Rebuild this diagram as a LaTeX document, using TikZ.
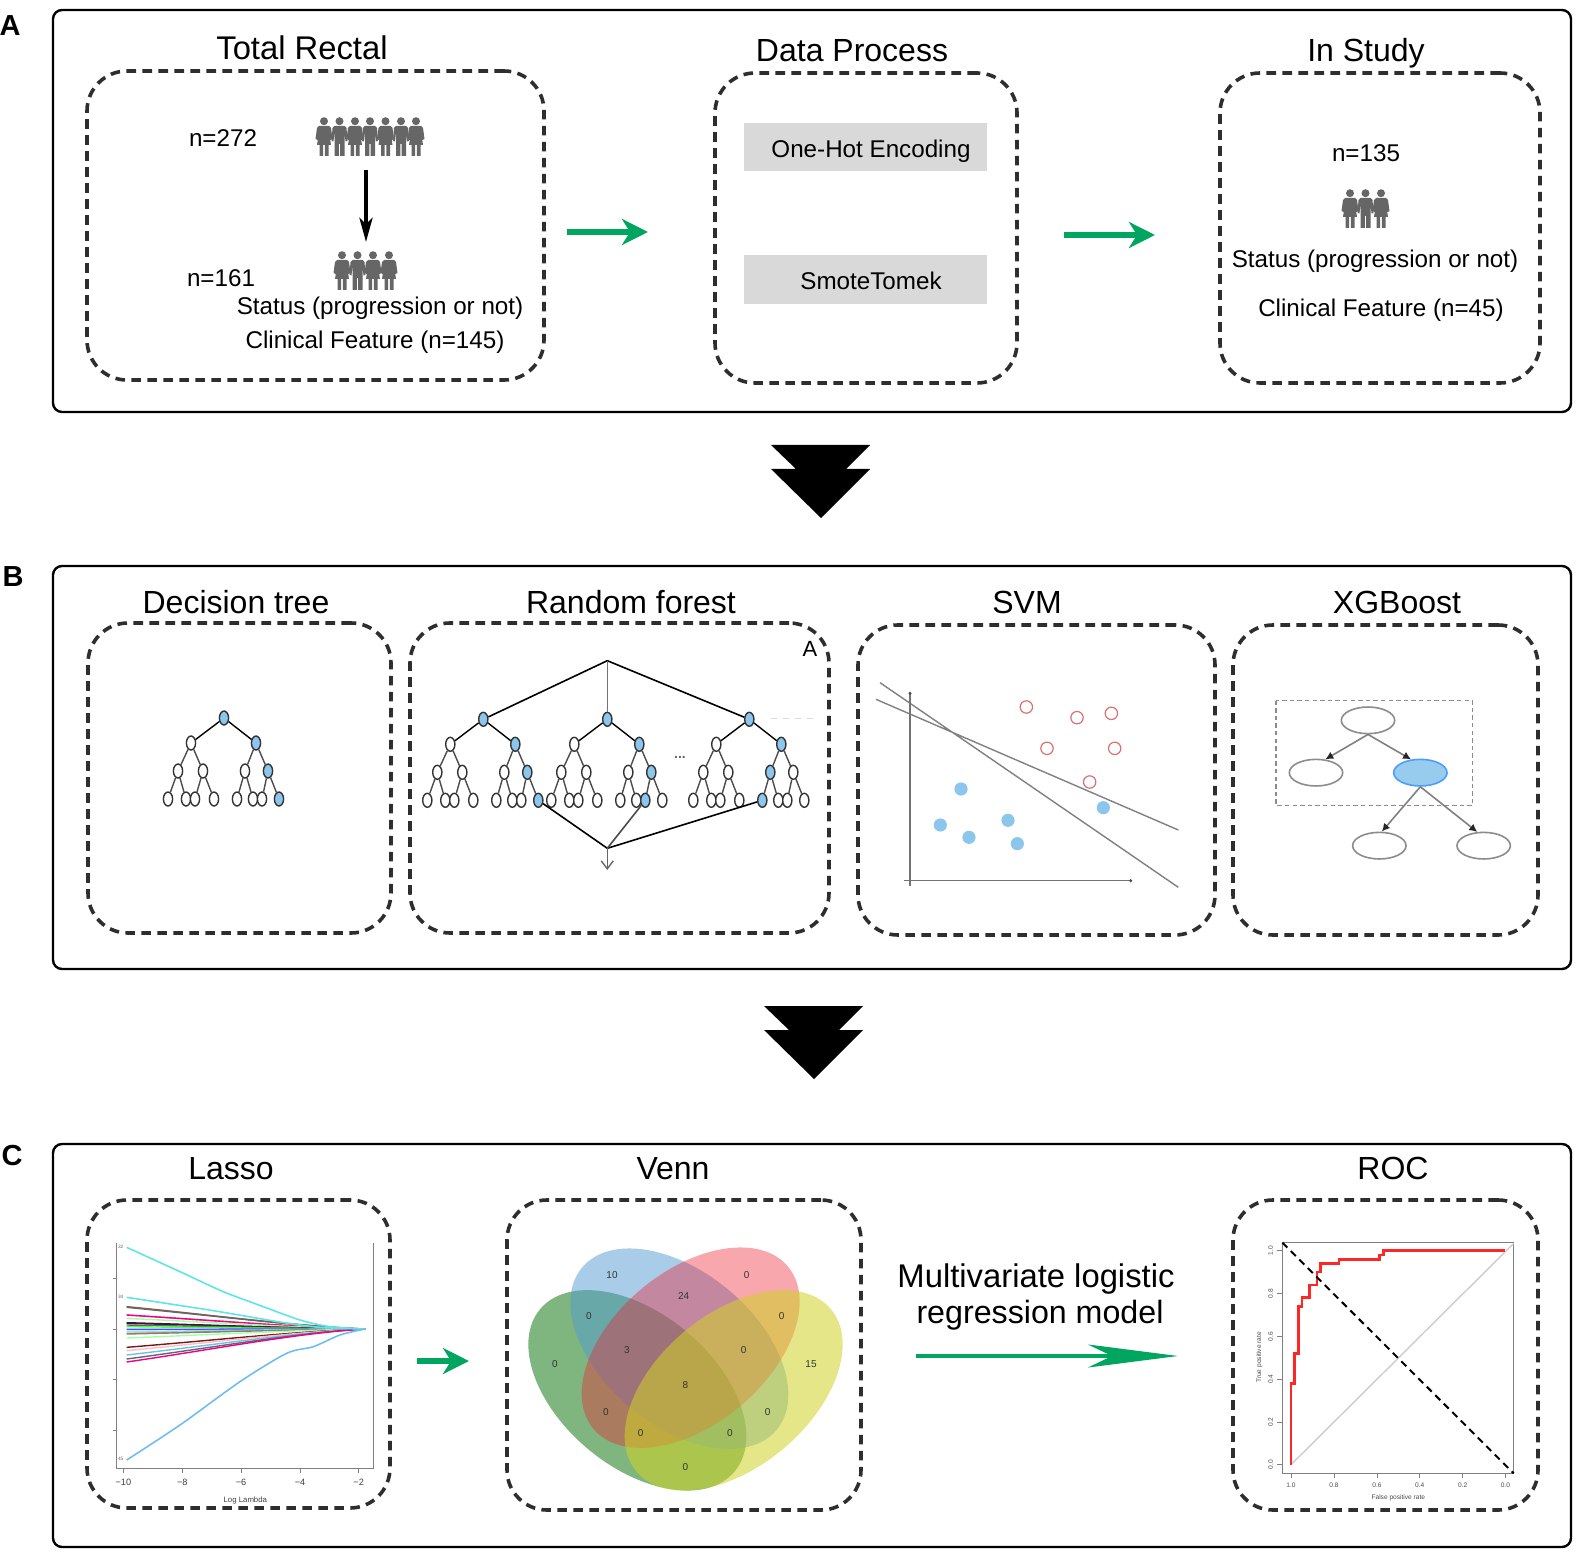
\documentclass[tikz,border=0pt]{standalone}
\usepackage{fontspec}
\setmainfont{Liberation Sans}
\usetikzlibrary{arrows.meta,fit,shapes.geometric}
\definecolor{grn}{HTML}{00A65F}
\definecolor{persongray}{HTML}{666666}
\definecolor{leafblue}{HTML}{8CC6EC}
\definecolor{dashgray}{HTML}{2E2E2E}
\definecolor{axisgray}{HTML}{808080}
\definecolor{vg}{HTML}{2A842A}
\definecolor{vb}{HTML}{539BD3}
\definecolor{vr}{HTML}{ED2332}
\definecolor{vy}{HTML}{D0D225}
\definecolor{lcyan}{HTML}{5FE5E5}
\definecolor{lsky}{HTML}{70BDF0}
\tikzset{
  outerbox/.style={draw=black,line width=1.2pt,rounded corners=4.5pt},
  dbox/.style={draw=dashgray,line width=1.8pt,dash pattern=on 4.8pt off 3.2pt,rounded corners=20pt,inner sep=0pt,outer sep=0pt},
  head16/.style={font=\fontsize{16}{18}\selectfont,inner sep=0pt},
  body12/.style={font=\fontsize{12.1}{14}\selectfont,inner sep=0pt},
  panellabel/.style={font=\fontsize{14.5}{16}\selectfont\bfseries,inner sep=0pt},
  graybox/.style={fill=black!15,inner sep=0pt},
  garrow/.style={draw=grn,line width=2.6pt,-{Stealth[length=13pt,width=13pt,inset=4pt]}},
  wn/.style={ellipse,draw=black!80,line width=.7pt,fill=white,minimum width=4.6pt,minimum height=7pt,inner sep=0pt},
  bn/.style={wn,fill=leafblue},
  tedge/.style={draw=black!70,line width=.7pt},
  redc/.style={circle,draw=red!60!gray!70,line width=.6pt,fill=white,minimum size=6.2pt,inner sep=0pt},
  bluec/.style={circle,fill=leafblue,minimum size=6.6pt,inner sep=0pt},
  xnode/.style={ellipse,draw=black!45,line width=.8pt,minimum width=26.7pt,minimum height=13.3pt,inner sep=0pt},
  xedge/.style={draw=black!50,line width=.8pt,-{Latex[length=4pt,width=4pt,black!85]}},
  zoomed/.style={x=0.166667pt,y=-0.166667pt},
  venn/.style={font=\fontsize{5}{6}\selectfont,inner sep=0pt,text=black!80},
  tiny33/.style={font=\fontsize{3.3}{4}\selectfont,inner sep=0pt,text=black!70},
  tiny42/.style={font=\fontsize{4.6}{5}\selectfont,inner sep=0pt,text=black!75},
  lasso/.style={line width=.7pt},
}
\newcommand{\dbx}[5]{\coordinate (#1-a) at (#2,#3);\coordinate (#1-b) at (#4,#5);\node[dbox,fit=(#1-a)(#1-b)] (#1) {};}
\newcommand{\pwoman}[2]{\begin{scope}[shift={(#1,#2)}]
  \fill[persongray] (0,4.2) circle [radius=4];
  \fill[persongray] (-5,9)--(5,9)--(7,11)--(8.5,22)--(6.5,23)--(5,15)--(7,28)--(-7,28)--(-5,15)--(-6.5,23)--(-8.5,22)--(-7,11)--cycle;
  \fill[persongray] (-4.5,28) rectangle (-.8,39) (.8,28) rectangle (4.5,39);
\end{scope}}
\newcommand{\pman}[2]{\begin{scope}[shift={(#1,#2)}]
  \fill[persongray] (0,4.2) circle [radius=4];
  \fill[persongray] (-5,9)--(5,9)--(7,11)--(8,24)--(6,24.5)--(5,15)--(5,27)--(-5,27)--(-5,15)--(-6,24.5)--(-8,24)--(-7,11)--cycle;
  \fill[persongray] (-5,27) rectangle (-.6,39) (.6,27) rectangle (5,39);
\end{scope}}
\newcommand{\mktree}[9]{\begin{scope}[shift={(#2,#3)}]
  \node[bn] (#1r) at (0,0) {};
  \node[wn] (#1L) at (-33,25) {};
  \node[#4] (#1R) at (32,25) {};
  \node[wn] (#1LL) at (-46,53) {};
  \node[wn] (#1LR) at (-21,53) {};
  \node[#5] (#1RL) at (21,53) {};
  \node[#6] (#1RR) at (44,53) {};
  \node[wn] (#1a) at (-56,81) {};
  \node[wn] (#1b) at (-38,81) {};
  \node[wn] (#1c) at (-29,81) {};
  \node[wn] (#1d) at (-10,81) {};
  \node[#7] (#1e) at (13,81) {};
  \node[wn] (#1f) at (29,81) {};
  \node[#8] (#1g) at (38,81) {};
  \node[#9] (#1h) at (55,81) {};
  \draw[line width=.7pt] (#1r)--(#1L) (#1r)--(#1R);
  \draw[tedge] (#1L)--(#1LL) (#1L)--(#1LR) (#1R)--(#1RL) (#1R)--(#1RR)
    (#1LL)--(#1a) (#1LL)--(#1b) (#1LR)--(#1c) (#1LR)--(#1d)
    (#1RL)--(#1e) (#1RL)--(#1f) (#1RR)--(#1g) (#1RR)--(#1h);
\end{scope}}
\begin{document}
\begin{tikzpicture}[x=0.5pt,y=-0.5pt]
\useasboundingbox (0,0) rectangle (1580,1556);
% outer panels
\draw[outerbox] (53,10) rectangle (1571,412);
\draw[outerbox] (53,566) rectangle (1571,969);
\draw[outerbox] (53,1144) rectangle (1571,1547);
\node[panellabel] (labA) at (10,26) {A};
\node[panellabel] (labB) at (13,577) {B};
\node[panellabel] (labC) at (12,1156) {C};
% big arrows
\fill (771,445)--(870,445)--(846,469)--(870,469)--(821,518)--(771,469)--(796,469)--cycle;
\fill (764,1006)--(863,1006)--(839,1030)--(863,1030)--(814,1079)--(764,1030)--(789,1030)--cycle;
% Panel A
\dbx{tr}{87}{71}{544}{380}
\dbx{dp}{715}{73}{1017}{383}
\dbx{is}{1220}{73}{1540}{383}
\node[head16,font=\fontsize{16.4}{18}\selectfont] (h1) at (302,48) {Total Rectal};
\node[head16] (h2) at (852,51) {Data Process};
\node[head16] (h3) at (1366,53) {In Study};
\node[body12] (n272) at (223,138) {n=272};
\node[body12] (n161) at (221,278) {n=161};
\node[body12] (st1) at (380,308) {Status (progression or not)};
\node[body12] (cf1) at (375,342) {Clinical Feature (n=145)};
\pwoman{324}{117}\pman{339.5}{117}\pwoman{355}{117}\pman{370}{117}\pwoman{385.5}{117}\pman{401}{117}\pwoman{416}{117}
\pwoman{342}{251}\pman{357.5}{251}\pwoman{373}{251}\pwoman{389}{251}
\coordinate (da1) at (366,170);
\coordinate (da2) at (366,242);
\draw[line width=1.9pt,-{Stealth[length=12pt,width=6.5pt,inset=3pt]}] (da1)--(da2);
\node[graybox,minimum width=121.5pt,minimum height=24pt] (ohe) at (865.5,147) {};
\node[graybox,minimum width=121.5pt,minimum height=24.5pt] (smt) at (865.5,279.5) {};
\node[body12] (ohet) at (871,151) {One-Hot Encoding};
\node[body12] (smtt) at (871,281) {SmoteTomek};
\node[body12] (n135) at (1366,153) {n=135};
\pwoman{1350}{189}\pman{1365.5}{189}\pwoman{1381}{189}
\node[body12] (st2) at (1375,261) {Status (progression or not)};
\node[body12] (cf2) at (1381,310) {Clinical Feature (n=45)};
\draw[garrow] ([shift={(23,6.5)}]tr.east)--([shift={(-67,4)}]dp.west);
\draw[garrow] ([shift={(47,7)}]dp.east)--([shift={(-65,7)}]is.west);
% Panel B
\dbx{dt}{88}{623}{391}{933}
\dbx{rf}{410}{623}{829}{933}
\dbx{svm}{858}{625}{1215}{935}
\dbx{xg}{1233}{625}{1538}{935}
\node[head16] (h4) at (236,602) {Decision tree};
\node[head16] (h5) at (631,602) {Random forest};
\node[head16] (h6) at (1027,602) {SVM};
\node[head16] (h7) at (1397,602) {XGBoost};
\mktree{d}{224}{718}{bn}{wn}{bn}{wn}{wn}{bn}
\mktree{p}{483.3}{719.3}{bn}{wn}{bn}{wn}{wn}{bn}
\mktree{q}{607.3}{719.3}{bn}{wn}{bn}{wn}{bn}{wn}
\mktree{s}{749.3}{719.3}{bn}{bn}{wn}{bn}{wn}{wn}
\node[inner sep=0pt,font=\fontsize{11}{12}\selectfont] (rfA) at (810,649) {A};
\node[inner sep=0pt,font=\fontsize{7}{8}\selectfont\bfseries,text=black!60] (dots) at (680,757) {...};
\coordinate (ftop) at (607.3,660.7);
\coordinate (fbot) at (607.3,848.3);
\coordinate (fout) at (607.3,870);
\draw[line width=.8pt] (ftop)--(pr) (ftop)--(sr);
\draw[line width=.8pt,black!55] (ftop)--(qr);
\draw[line width=.8pt] (ph)--(fbot) (se)--(fbot);
\draw[line width=.8pt,black!70] (qg)--(fbot);
\draw[line width=.7pt,black!60,-{Straight Barb[length=4pt,width=6pt]}] (fbot)--(fout);
\coordinate (fa1) at (771,718);
\coordinate (fa2) at (814,718);
\draw[line width=.25pt,black!15,dashed] (fa1)--(fa2);
% SVM
\begin{scope}[shift={(850,660)},zoomed]
  \coordinate (l1a) at (90,68);\coordinate (l1b) at (985,682);
  \coordinate (l2a) at (78,118);\coordinate (l2b) at (985,510);
  \coordinate (ax0) at (180,100);\coordinate (ax1) at (180,678);
  \coordinate (ay0) at (162,662);\coordinate (ay1) at (842,662);
  \draw[line width=.7pt,black!50] (l1a)--(l1b) (l2a)--(l2b);
  \draw[line width=.8pt,black!55] (ax0)--(ax1) (ay0)--(ay1);
  \fill[black!70] (180,100) circle [radius=5] (842,662) circle [radius=5];
  \foreach \i/\a/\b in {1/529/141,2/681/173,3/784/160,4/591/265,5/794/265,6/719/366}
    \node[redc] (rc\i) at (\a,\b) {};
  \foreach \i/\a/\b in {1/333/387,2/271/495,3/357/532,4/474/481,5/502/551,6/760/443}
    \node[bluec] (bc\i) at (\a,\b) {};
\end{scope}
% XGBoost
\begin{scope}[shift={(1240,680)},zoomed]
  \draw[draw=black!45,line width=.7pt,dash pattern=on 2.2pt off 1.6pt] (108,62) rectangle (698,377);
  \node[xnode] (xt) at (384,121) {};
  \node[xnode] (xl) at (228,278) {};
  \node[xnode,fill=leafblue!90!white,draw=blue!55!cyan!70] (xb) at (541,278) {};
  \node[xnode] (xc) at (418,497) {};
  \node[xnode] (xd) at (731,497) {};
  \draw[xedge] (xt.south)--(xl.55);
  \draw[xedge] (xt.south)--(xb.125);
  \draw[xedge] (xb.south)--(xc.80);
  \draw[xedge] (xb.south)--(xd.115);
\end{scope}
% Panel C
\dbx{la}{87}{1200}{390}{1508}
\dbx{ve}{507}{1200}{861}{1510}
\dbx{ro}{1233}{1200}{1538}{1510}
\node[head16] (h8) at (231,1169) {Lasso};
\node[head16] (h9) at (673,1169) {Venn};
\node[head16] (h10) at (1393,1168) {ROC};
\node[head16,font=\fontsize{16.4}{18}\selectfont] (m1) at (1036,1279) {Multivariate logistic};
\node[head16,font=\fontsize{16.1}{18}\selectfont] (m2) at (1040,1315) {regression model};
\draw[garrow] ([shift={(27,7)}]la.east)--([shift={(-38,6)}]ve.west);
\draw[garrow,line width=1.8pt,-{Stealth[length=45pt,width=11.5pt,inset=12pt]}] ([shift={(55,1)}]ve.east)--([shift={(-55,1)}]ro.west);
% Lasso plot
\begin{scope}[shift={(80,1190)},zoomed]
  \draw[axisgray,line width=.8pt] (110,158)--(110,835)--(880,835)--(880,158);
  \foreach \t in {265,417,569,721} \draw[axisgray,line width=.4pt] (110,\t)--(98,\t);
  \foreach \t/\l in {130/−10,307/−8,483/−6,660/−4,836/−2} {
    \draw[axisgray,line width=.4pt] (\t,835)--(\t,850);
    \node[tiny42] at (\t,878) {\l};
  }
  \node[inner sep=0pt,font=\fontsize{3.9}{5}\selectfont,text=black!75] (xlab) at (496,930) {Log Lambda};
  \foreach \s/\c in {350/green!45,350/red!50!black!70,352/black!60,375/red!30!pink,375/magenta,385/green!35,398/violet!70!black,400/black!85,405/black!60,410/green!70,418/blue!70,425/cyan!40,430/olive!60,432/black!50,444/green!35,472/red!40!black!90,482/pink,495/lsky,507/black!60,516/magenta} {
    \pgfmathsetmacro\ya{417+(\s-417)*0.62}
    \pgfmathsetmacro\yb{417+(\s-417)*0.12}
    \draw[lasso,\c] (140,\s) .. controls (400,\ya) and (650,\yb) .. (855,417);
  }
  \draw[lcyan,line width=.8pt] plot[smooth] coordinates {(140,172)(300,245)(430,305)(550,350)(660,390)(750,410)(855,417)};
  \draw[lcyan,line width=.8pt] plot[smooth] coordinates {(140,322)(400,362)(600,396)(720,412)(855,417)};
  \draw[lsky,line width=.8pt] plot[smooth] coordinates {(140,810)(300,705)(480,575)(620,490)(700,470)(780,435)(855,417)};
  \node[inner sep=0pt,font=\fontsize{2.4}{3}\selectfont,text=black!60] (c32) at (122,172) {32};
  \node[inner sep=0pt,font=\fontsize{2.4}{3}\selectfont,text=black!60] (c34) at (122,320) {34};
  \node[inner sep=0pt,font=\fontsize{2.4}{3}\selectfont,text=black!60] (c45) at (122,808) {45};
\end{scope}
% Venn
\begin{scope}[shift={(500,1190)},zoomed]
  \fill[vg,opacity=.6,shift={(412,601)},rotate=-39.8] (0,0) ellipse [x radius=380,y radius=230];
  \fill[vb,opacity=.5,shift={(538,476)},rotate=-39.8] (0,0) ellipse [x radius=380,y radius=230];
  \fill[vr,opacity=.4,shift={(572,473)},rotate=39.8] (0,0) ellipse [x radius=380,y radius=230];
  \fill[vy,opacity=.55,shift={(701,601)},rotate=39.8] (0,0) ellipse [x radius=380,y radius=230];
  \foreach \i/\a/\b/\l in {1/336/255/10,2/740/255/0,3/551/317/24,4/267/378/0,5/845/378/0,6/381/481/3,7/731/481/0,8/165/522/0,9/933/522/15,10/556/584/8,11/318/666/0,12/803/666/0,13/422/728/0,14/690/728/0,15/556/831/0}
    \node[venn] (v\i) at (\a,\b) {\l};
\end{scope}
% ROC
\begin{scope}[shift={(1220,1190)},zoomed]
  \draw[axisgray,line width=.8pt] (187,158) rectangle (881,850);
  \foreach \t/\l in {213/1.0,342/0.8,471/0.6,599/0.4,728/0.2,856/0.0} {
    \draw[axisgray,line width=.4pt] (\t,850)--(\t,865);
    \node[tiny33] at (\t,885) {\l};
  }
  \foreach \t/\l in {182/1.0,311/0.8,440/0.6,568/0.4,696/0.2,824/0.0} {
    \draw[axisgray,line width=.4pt] (187,\t)--(172,\t);
    \node[tiny33,rotate=90] at (152,\t) {\l};
  }
  \node[tiny33,rotate=90] (ylab) at (118,502) {True positive rate};
  \node[tiny33] (xlab2) at (535,922) {False positive rate};
  \draw[black!20,line width=.7pt] (213,824)--(881,160);
  \draw[red!85!white,line width=1.3pt] (213,824)--(213,580)--(224,580)--(224,490)--(235,490)--(235,349)--(246,349)--(246,323)--(268,323)--(268,285)--(291,285)--(291,246)--(302,246)--(302,220)--(357,220)--(357,208)--(478,208)--(478,195)--(490,195)--(490,182)--(856,182);
  \draw[black,line width=1pt,dash pattern=on 3.5pt off 2.5pt] (187,158)--(881,850);
\end{scope}
\end{tikzpicture}
\end{document}
